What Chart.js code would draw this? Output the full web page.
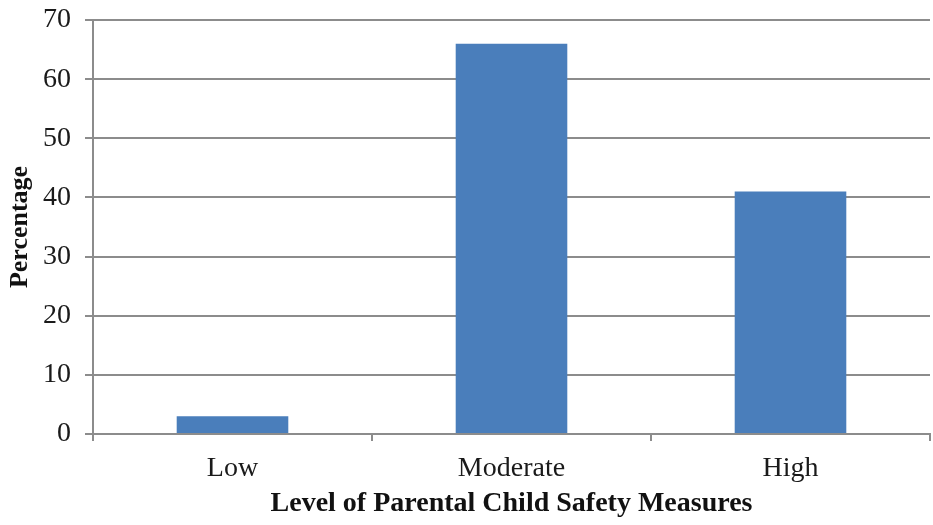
<!DOCTYPE html>
<html>
<head>
<meta charset="utf-8">
<script src="https://cdn.jsdelivr.net/npm/chart.js@4.4.1/dist/chart.umd.min.js"></script>
<style>
  html, body { margin: 0; padding: 0; background: #ffffff; }
  #wrap { width: 933px; height: 525px; }
</style>
</head>
<body>
<div id="wrap"><canvas id="chart" width="933" height="525"></canvas></div>
<script>
// Share of parents at each level of child safety measures
const categories = ['Low', 'Moderate', 'High'];
const percentages = [3, 66, 41];
const yTicks = [0, 10, 20, 30, 40, 50, 60, 70];

const serif = '"Liberation Serif", "Times New Roman", serif';
const lineGray = '#8c8c8c';

new Chart(document.getElementById('chart'), {
  type: 'bar',
  data: {
    labels: categories,
    datasets: [{
      data: percentages,
      backgroundColor: '#4a7ebb',
      borderWidth: 0,
      categoryPercentage: 1.0,
      barPercentage: 0.4
    }]
  },
  options: {
    responsive: false,
    animation: false,
    devicePixelRatio: 1,
    layout: { padding: { left: 0, right: 3, top: 20, bottom: 0 } },
    plugins: { legend: { display: false }, tooltip: { enabled: false } },
    scales: {
      x: {
        offset: true,
        grid: {
          offset: true,
          drawOnChartArea: false,
          drawTicks: true,
          tickLength: 7,
          color: lineGray,
          lineWidth: 2
        },
        border: { color: lineGray, width: 2 },
        ticks: {
          color: '#1a1a1a',
          font: { family: serif, size: 28 },
          padding: 11
        },
        title: {
          display: true,
          text: 'Level of Parental Child Safety Measures',
          color: '#111111',
          font: { family: serif, size: 28, weight: 'bold' },
          padding: { top: 0, bottom: 4 }
        },
        afterFit(scale) {
          scale.height = 91;
          scale.paddingLeft = 0;
          scale.paddingRight = 0;
        }
      },
      y: {
        min: 0,
        max: 70,
        afterBuildTicks(scale) { scale.ticks = yTicks.map(v => ({ value: v })); },
        grid: {
          color: lineGray,
          lineWidth: 2,
          drawTicks: true,
          tickLength: 8
        },
        border: { color: lineGray, width: 2 },
        ticks: {
          color: '#1a1a1a',
          font: { family: serif, size: 28 },
          padding: 14
        },
        title: {
          display: true,
          text: 'Percentage',
          color: '#111111',
          font: { family: serif, size: 26, weight: 'bold' },
          padding: { top: 5, bottom: 0 }
        },
        afterFit(scale) {
          scale.width = 93;
          scale.paddingTop = 0;
          scale.paddingBottom = 0;
        }
      }
    }
  }
});
</script>
</body>
</html>
